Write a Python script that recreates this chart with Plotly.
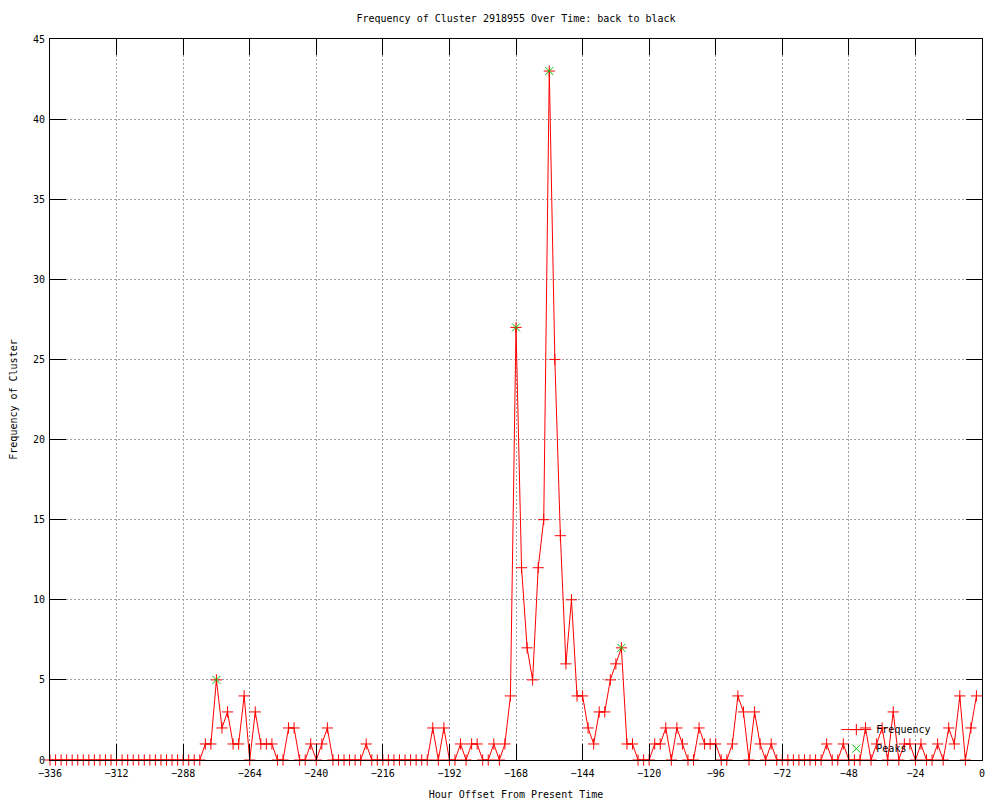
import plotly.graph_objects as go

# Hour offsets (sampled every 2 hours)
hours = list(range(-336, 0, 2))

# Frequency values (168 samples)
frequency = (
    [0] * 28
    + [1, 1, 5, 2, 3, 1, 1, 4, 0, 3, 1, 1, 1, 0, 0, 2, 2, 0, 0, 1, 0, 1, 2, 0]
    + [0, 0, 0, 0, 0, 1]
    + [0] * 11
    + [2, 0, 2, 0, 0, 1, 0, 1, 1, 0, 0, 1, 0, 1, 4]
    + [27, 12, 7, 5, 12, 15, 43, 25, 14, 6, 10, 4, 4, 2, 1, 3, 3, 5, 6, 7, 1, 1]
    + [0, 0, 0, 1, 1, 2, 0, 2, 1, 0, 0, 2, 1, 1, 1, 0, 0, 1, 4, 3, 0, 3, 1, 0, 1, 0]
    + [0] * 8
    + [1, 0, 0, 1, 0, 0, 0, 2, 0, 1, 2, 0, 3, 0, 1, 1, 0, 1, 0, 0, 1, 0, 2, 1, 4, 0, 2, 4]
)

# Peaks
peak_hours = [-276, -168, -156, -130]
peak_values = [5, 27, 43, 7]

x_ticks = [-336, -312, -288, -264, -240, -216, -192, -168, -144, -120, -96, -72, -48, -24, 0]
y_ticks = [0, 5, 10, 15, 20, 25, 30, 35, 40, 45]

FONT = "DejaVu Sans Mono"

fig = go.Figure()
fig.add_trace(go.Scatter(
    x=hours, y=frequency, name="Frequency", mode="lines+markers",
    line=dict(color="#ff0000", width=1),
    marker=dict(symbol="cross-thin", size=8, color="#ff0000",
                line=dict(color="#ff0000", width=1)),
    cliponaxis=False,
))
fig.add_trace(go.Scatter(
    x=peak_hours, y=peak_values, name="Peaks", mode="markers",
    marker=dict(symbol="x-thin", size=8, color="#00c000",
                line=dict(color="#00c000", width=1)),
    cliponaxis=False,
))

axis_common = dict(
    showline=True, linecolor="black", linewidth=1, mirror="ticks",
    ticks="inside", ticklen=16, tickwidth=1, tickcolor="black",
    showgrid=True, gridcolor="#a0a0a0", griddash="2px,2px", gridwidth=1,
    zeroline=False, automargin=False,
    tickfont=dict(family=FONT, size=10, color="black"),
)

# page body has an 8px margin, so the figure is sized/placed to compensate
fig.update_layout(
    width=992, height=792,
    margin=dict(l=41.5, r=18, t=30.5, b=40),
    paper_bgcolor="white", plot_bgcolor="white",
    font=dict(family=FONT, size=10, color="black"),
    title=dict(text="Frequency of Cluster 2918955 Over Time: back to black",
               x=0.5, xref="paper", xanchor="center",
               y=1 - 10 / 792, yref="container", yanchor="middle",
               font=dict(family=FONT, size=10, color="black")),
    xaxis=dict(range=[-336, 0], tickvals=x_ticks, ticklabelstandoff=4,
               title=dict(text="Hour Offset From Present Time", standoff=12,
                          font=dict(family=FONT, size=10)),
               **axis_common),
    yaxis=dict(range=[0, 45], tickvals=y_ticks, ticklabelstandoff=2,
               title=dict(text="Frequency of Cluster", standoff=14,
                          font=dict(family=FONT, size=10)),
               **axis_common),
    showlegend=True,
    legend=dict(x=0.951, xanchor="right", y=0.0623, yanchor="top",
                bgcolor="rgba(0,0,0,0)", font=dict(family=FONT, size=10),
                tracegroupgap=0, itemwidth=30),
)

fig.write_html("out.html")
